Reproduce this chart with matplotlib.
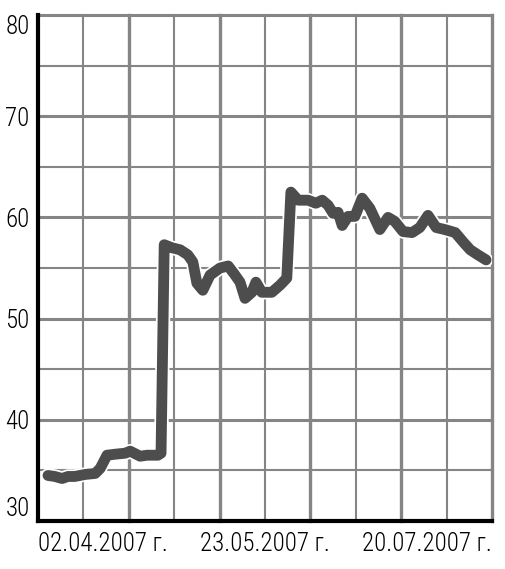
import matplotlib
matplotlib.use("Agg")
import matplotlib.pyplot as plt
import matplotlib.patheffects as pe
from matplotlib import font_manager

# day position on the axis (0..100) and value
DAYS = [2.2, 3.7, 5.3, 6.6, 8.1, 10.4, 12.6, 13.7, 15.2, 17.0, 19.2, 20.3,
        22.5, 24.0, 26.4, 27.1, 27.8, 29.5, 31.3, 33.0, 34.1, 35.0, 36.3,
        37.9, 40.1, 41.9, 43.4, 44.5, 45.6, 47.1, 48.0, 49.3, 51.5, 53.3,
        54.8, 55.7, 57.3, 59.5, 61.2, 62.6, 63.9, 65.0, 66.1, 67.0, 68.3,
        69.8, 71.4, 73.1, 75.3, 77.1, 78.6, 80.4, 82.4, 84.1, 85.9, 87.7,
        89.6, 91.9, 93.6, 95.2, 96.9, 98.7]
VALUES = [34.5, 34.4, 34.2, 34.4, 34.4, 34.6, 34.7, 35.2, 36.5, 36.6, 36.7, 36.9,
          36.4, 36.5, 36.5, 36.7, 57.3, 57.0, 56.8, 56.3, 55.6, 53.5, 52.8,
          54.3, 55.0, 55.2, 54.3, 53.6, 52.0, 52.6, 53.6, 52.6, 52.6, 53.3,
          54.0, 62.5, 61.7, 61.7, 61.4, 61.7, 61.2, 60.4, 60.5, 59.2, 60.1,
          60.1, 61.9, 60.9, 58.8, 60.0, 59.6, 58.6, 58.5, 59.0, 60.2, 59.0,
          58.8, 58.5, 57.6, 56.8, 56.3, 55.8]

Y_TICKS = [30, 40, 50, 60, 70, 80]
X_LABEL_POS = [0, 50, 100]
X_LABELS = ["02.04.2007 г.", "23.05.2007 г.", "20.07.2007 г."]

# pick a narrow face if the system has one
names = {f.name for f in font_manager.fontManager.ttflist}
CANDIDATES = ["Liberation Sans Narrow", "DejaVu Sans Condensed", "Roboto Condensed",
              "Open Sans Condensed", "Roboto", "DejaVu Sans"]
FONT = [f for f in CANDIDATES if f in names][:1] + ["DejaVu Sans"]

fig = plt.figure(figsize=(5.05, 5.69), dpi=100)
ax = fig.add_axes([38 / 505, 48 / 569, 454 / 505, 506 / 569])
ax.set_xlim(0, 100)
ax.set_ylim(30, 80)

# size text so the date label is about as wide as in the source (~130 px)
renderer = fig.canvas.get_renderer()
probe = fig.text(0, 0, X_LABELS[0], family=FONT, fontsize=10, weight="light")
w10 = probe.get_window_extent(renderer).width
probe.remove()
fsize = min(19, 10 * 130 / w10)

# grid: thick at majors, thin in between
for y in range(35, 81, 5):
    major = y % 10 == 0
    ax.axhline(y, color="#858585", lw=2.2 if major else 1.5, zorder=1, clip_on=False)
for x in range(10, 101, 10):
    major = x % 20 == 0
    ax.axvline(x, color="#858585", lw=2.4 if major else 1.5, zorder=1, clip_on=False)

ax.plot(DAYS, VALUES, color="#4d4d4d", lw=7.8, solid_capstyle="round",
        solid_joinstyle="round", zorder=3,
        path_effects=[pe.Stroke(linewidth=10.3, foreground="white"), pe.Normal()])

for s in ["top", "right"]:
    ax.spines[s].set_visible(False)
for s in ["left", "bottom"]:
    ax.spines[s].set_linewidth(3)
    ax.spines[s].set_color("black")
    ax.spines[s].set_zorder(4)

ax.set_yticks(Y_TICKS)
ax.set_yticklabels([str(v) for v in Y_TICKS], family=FONT, fontsize=fsize, weight="light")
ax.set_xticks(X_LABEL_POS)
ax.set_xticklabels(X_LABELS, family=FONT, fontsize=fsize, weight="light")
ax.tick_params(axis="y", length=0, pad=6)
ax.tick_params(axis="x", length=0, pad=8)
xl = ax.get_xticklabels()
xl[0].set_ha("left")
xl[-1].set_ha("right")
yl = ax.get_yticklabels()
yl[0].set_va("bottom")
yl[-1].set_va("top")

fig.savefig("out.png", dpi=100)
